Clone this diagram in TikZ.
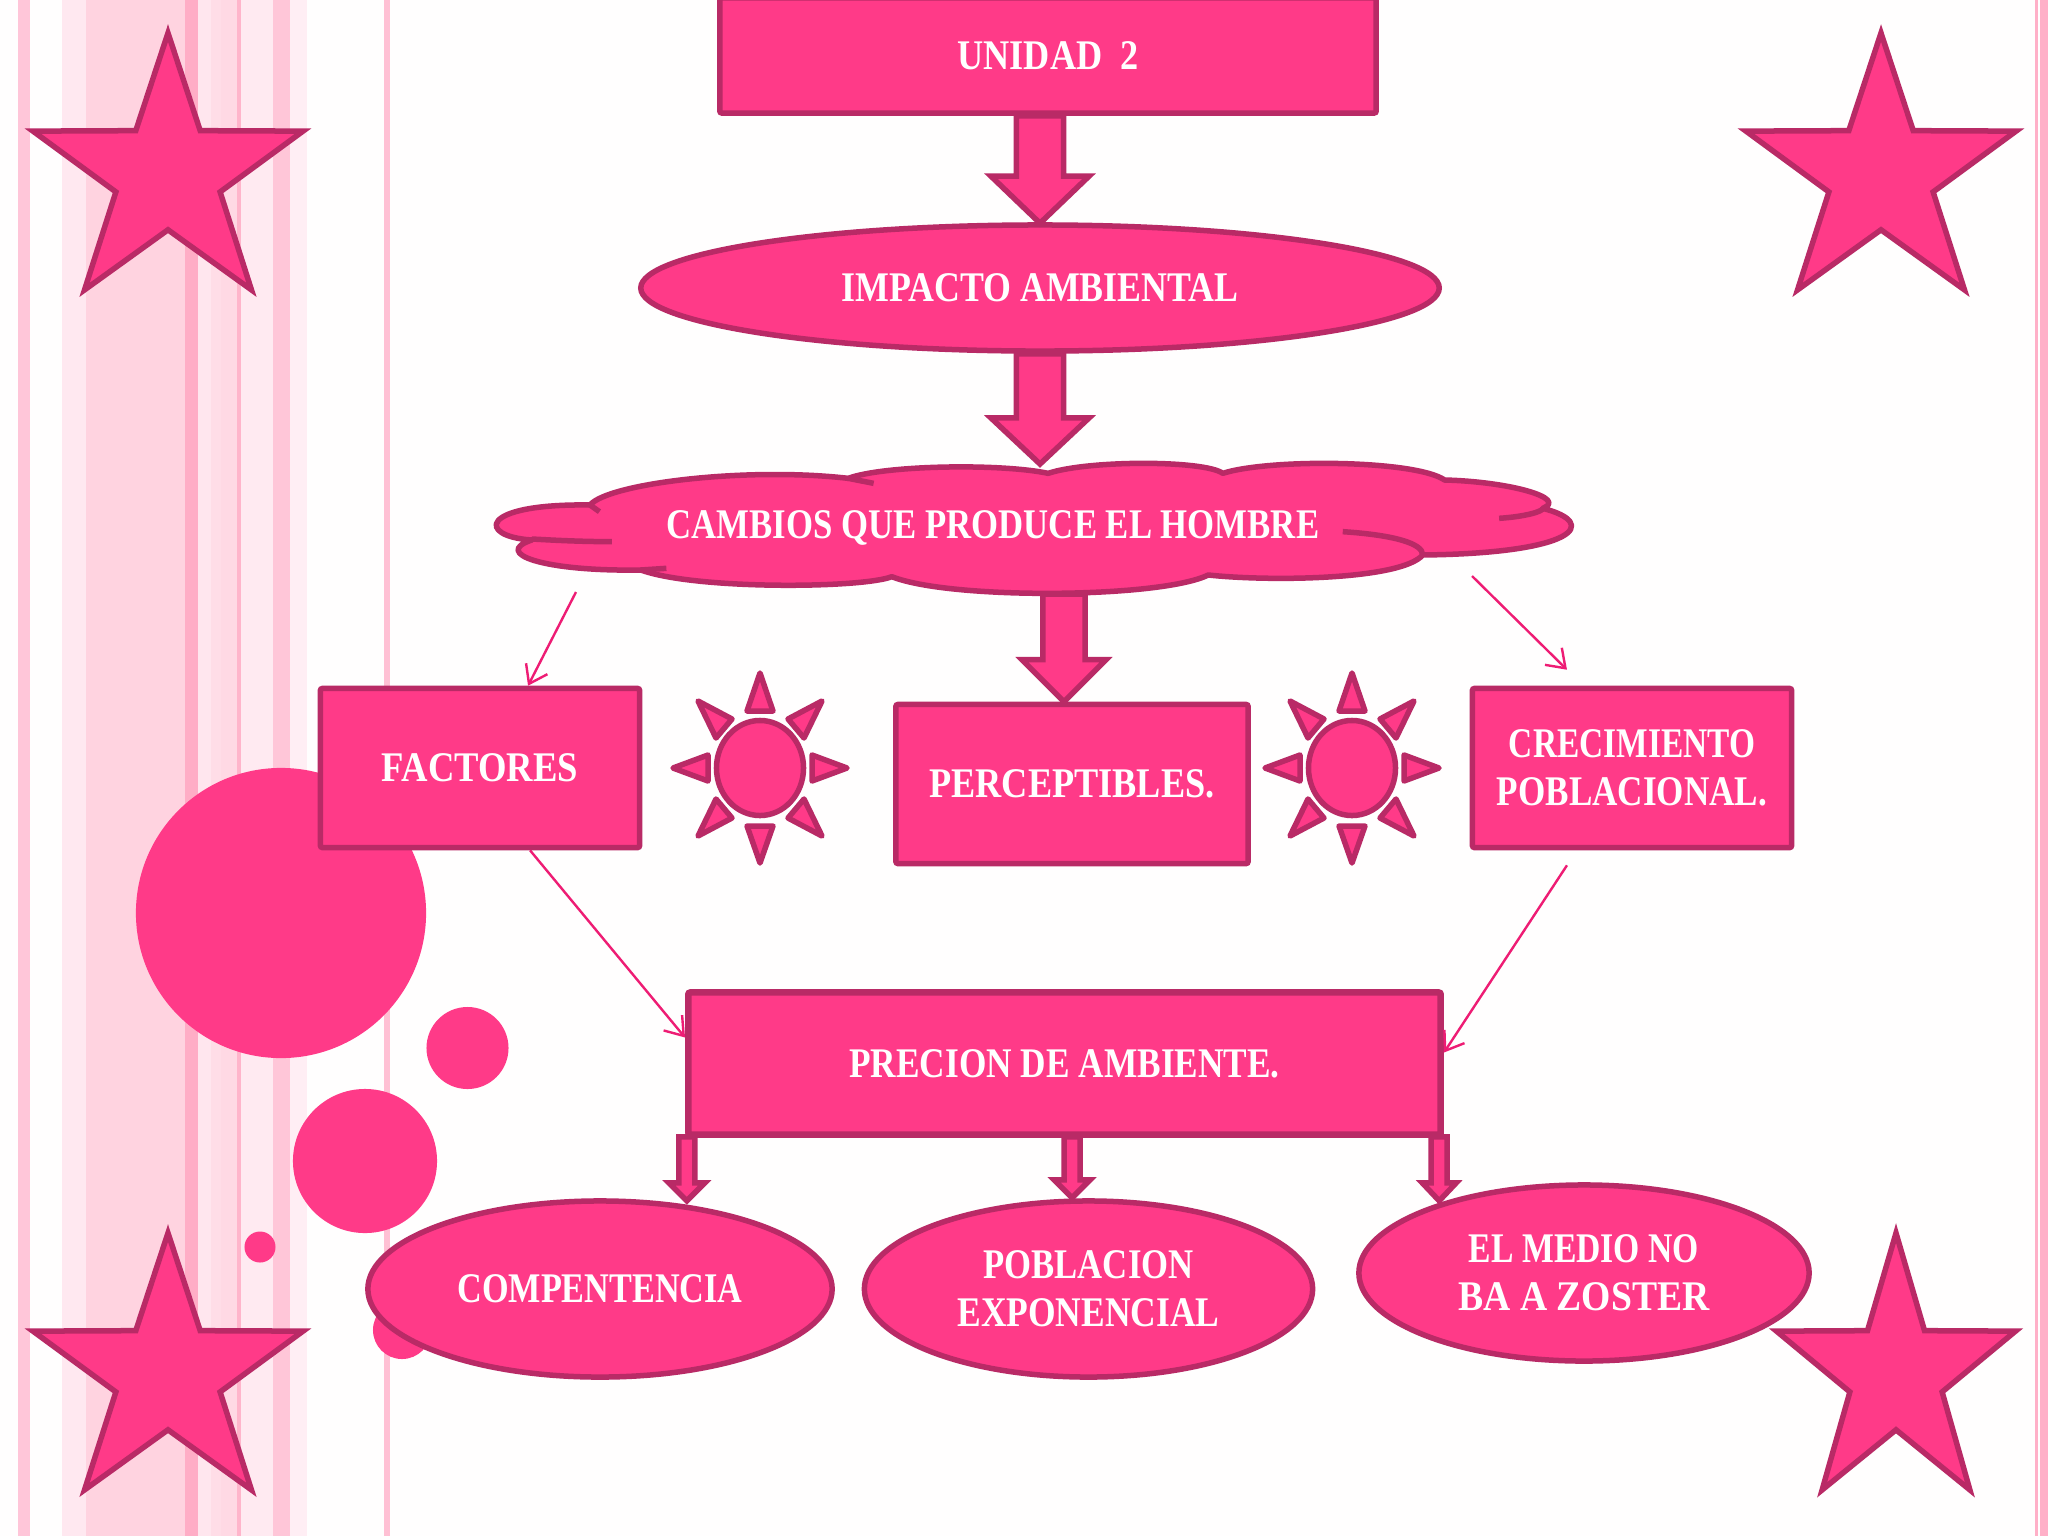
\documentclass[tikz,border=0pt]{standalone}
\usepackage{fontspec}
\usepackage{graphicx}
\setmainfont{Liberation Serif}
\usetikzlibrary{shapes.geometric,arrows.meta,calc}
\definecolor{hotfill}{HTML}{FF3A88}
\definecolor{hotline}{HTML}{B92A66}
\definecolor{thinline}{HTML}{EE1C74}
\tikzset{
  shapeline/.style={draw=hotline,fill=hotfill,line width=.055cm},
  boxnode/.style={shapeline,rectangle,rounded corners=.02cm,inner sep=0pt,text=white,align=center,
    font=\fontsize{12}{13.66}\selectfont\bfseries},
  ovalnode/.style={shapeline,ellipse,inner sep=0pt,text=white,align=center,
    font=\fontsize{12}{13.66}\selectfont\bfseries},
  thinarrow/.style={draw=thinline,line width=.024cm,-{Straight Barb[length=.17cm,width=.24cm]}},
  blockline/.style={shapeline,line join=miter},
  sunline/.style={shapeline,line join=round},
  dot/.style={circle,fill=hotfill,inner sep=0pt},
}
\newcommand{\lbl}[2]{\resizebox{#1}{\height}{#2}}
% from, to, half shaft, half head, head length
\newcommand{\blockarrow}[5]{%
  \draw[blockline] let \p1=(#1),\p2=(#2) in
    (\x2-#3,\y1) -- (\x2+#3,\y1) -- (\x2+#3,\y2+#5) -- (\x2+#4,\y2+#5) -- (\x2,\y2)
    -- (\x2-#4,\y2+#5) -- (\x2-#3,\y2+#5) -- cycle;}
\newcommand{\starshape}[3]{%
  \begin{scope}[shift={(#1,#2)},xscale=#3]
    \draw[shapeline,line join=miter]
      (-90:142) -- (-54:54.8) -- (-18:142) -- (18:54.8) -- (54:142) -- (90:54.8)
      -- (126:142) -- (162:54.8) -- (198:142) -- (234:54.8) -- cycle;
  \end{scope}}
\newcommand{\sunshape}[3]{%
  \node[ovalnode,minimum width=.87cm,minimum height=.95cm] (#1) at (#2,#3) {};
  \begin{scope}[shift={(#2,#3)}]
    \draw[sunline] (0,-95) -- (13,-57) -- (-13,-57) -- cycle;
    \draw[sunline] (0,95) -- (13,58) -- (-13,58) -- cycle;
    \draw[sunline] (87,0) -- (52,13) -- (52,-13) -- cycle;
    \draw[sunline] (-87,0) -- (-52,13) -- (-52,-13) -- cycle;
    \draw[sunline] (62,-67) -- (28,-49) -- (44,-30) -- cycle;
    \draw[sunline] (-62,-67) -- (-28,-49) -- (-44,-30) -- cycle;
    \draw[sunline] (62,68) -- (28,50) -- (44,31) -- cycle;
    \draw[sunline] (-62,68) -- (-28,50) -- (-44,31) -- cycle;
  \end{scope}}
\begin{document}
\begin{tikzpicture}[x=.01cm,y=-.01cm]
\useasboundingbox (0,0) rectangle (2048,1536);
\fill[white!99.5!hotfill] (0,0) rectangle (2048,1536);
% stripes
\foreach \a/\b/\c in {18/30/FFC6D9,62/86/FFE8F0,86/185/FFD3E0,185/198/FFADC6,198/211/FFE6EE,211/221/FFDDE7,221/237/FFD9E4,237/241/FFB5CB,241/273/FFEAF1,273/290/FFC6D8,290/307/FFEEF4,384/390/FFC0D4,2035/2038/FFB0C8,2040/2048/FFB0C8}{
  \definecolor{stripecol}{HTML}{\c}
  \fill[stripecol] (\a,0) rectangle (\b,1536);
}
% dots
\node[dot,minimum width=2.9cm] (d1) at (281,913) {};
\node[dot,minimum width=.82cm] (d2) at (467.5,1048) {};
\node[dot,minimum width=1.44cm] (d3) at (365,1161) {};
\node[dot,minimum width=.31cm] (d4) at (260,1247) {};
\node[dot,minimum width=.58cm] (d5) at (402,1330) {};
% stars
\starshape{168}{175}{1}
\starshape{1881}{175}{1}
\starshape{168}{1375}{1}
\starshape{1896}{1375}{.885}
% cloud
\begin{scope}[shift={(470,440)},xscale=.7273,yscale=.3333]
  \draw[shapeline,line join=round]
    (165,195) .. controls (190,130) and (380,80) .. (520,115)
    .. controls (570,75) and (730,70) .. (795,100)
    .. controls (850,60) and (1010,60) .. (1035,100)
    .. controls (1100,55) and (1300,60) .. (1340,120)
    .. controls (1430,125) and (1510,175) .. (1475,205)
    .. controls (1555,250) and (1520,340) .. (1310,345)
    .. controls (1280,420) and (1100,425) .. (1015,405)
    .. controls (950,475) and (660,480) .. (580,410)
    .. controls (540,445) and (310,450) .. (235,390)
    .. controls (100,395) and (30,340) .. (85,300)
    .. controls (10,290) and (10,190) .. (165,195) -- cycle;
  \draw[shapeline,fill=none] (520,115) -- (555,130);
  \draw[shapeline,fill=none] (1200,275) .. controls (1270,285) and (1310,310) .. (1310,345);
  \draw[shapeline,fill=none] (1415,235) .. controls (1450,230) and (1475,215) .. (1475,205);
  \draw[shapeline,fill=none] (270,385) -- (235,390);
  \draw[shapeline,fill=none] (195,305) .. controls (150,305) and (110,300) .. (85,297);
  \draw[shapeline,fill=none] (165,195) -- (178,215);
\end{scope}
\coordinate (cloudtop) at (1040,464);
\coordinate (cloudbottom) at (1064,594);
\coordinate (cloudleft) at (576,592);
\coordinate (cloudright) at (1472,576);
\node[text=white,inner sep=0pt,font=\fontsize{12}{13.66}\selectfont\bfseries] (cambios) at (993,528)
  {\lbl{6.52cm}{CAMBIOS QUE PRODUCE EL HOMBRE}};
% nodes
\node[boxnode,minimum width=6.56cm,minimum height=1.15cm] (unidad) at (1048,55.5) {\lbl{1.81cm}{UNIDAD\ \ 2}};
\node[ovalnode,minimum width=7.98cm,minimum height=1.26cm] (impacto) at (1040,288) {\lbl{3.97cm}{IMPACTO AMBIENTAL}};
\node[boxnode,minimum width=3.19cm,minimum height=1.59cm] (factores) at (480,768) {\lbl{1.96cm}{FACTORES}};
\node[boxnode,minimum width=3.52cm,minimum height=1.59cm] (perceptibles) at (1072,784) {\lbl{2.85cm}{PERCEPTIBLES.}};
\node[boxnode,minimum width=3.19cm,minimum height=1.59cm] (crecimiento) at (1632,768) {\lbl{2.46cm}{CRECIMIENTO}\\\lbl{2.70cm}{POBLACIONAL.}};
\node[boxnode,minimum width=7.52cm,minimum height=1.42cm,line width=.065cm] (precion) at (1064.5,1063.5) {\lbl{4.30cm}{PRECION DE AMBIENTE.}};
\node[ovalnode,minimum width=4.64cm,minimum height=1.76cm] (compentencia) at (600,1289) {\lbl{2.85cm}{COMPENTENCIA}};
\node[ovalnode,minimum width=4.48cm,minimum height=1.76cm] (poblacion) at (1088.5,1289) {\lbl{2.10cm}{POBLACION}\\\lbl{2.62cm}{EXPONENCIAL}};
\node[ovalnode,minimum width=4.50cm,minimum height=1.76cm] (medio) at (1584,1273) {\lbl{2.30cm}{EL MEDIO NO}\\\lbl{2.51cm}{BA A ZOSTER}};
% suns
\sunshape{sunA}{760}{768}
\sunshape{sunB}{1352}{768}
% block arrows
\blockarrow{unidad.south}{$(impacto.north)+(0,-.01cm)$}{.235cm}{.49cm}{.47cm}
\blockarrow{impacto.south}{cloudtop}{.235cm}{.49cm}{.46cm}
\blockarrow{cloudbottom}{$(perceptibles.north)+(-.08cm,.0cm)$}{.21cm}{.42cm}{.42cm}
\blockarrow{$(precion.south)+(-3.775cm,.01cm)$}{$(precion.south)+(-3.775cm,-.63cm)$}{.08cm}{.18cm}{.18cm}
\blockarrow{$(precion.south)+(.075cm,.01cm)$}{$(precion.south)+(.075cm,-.60cm)$}{.08cm}{.18cm}{.18cm}
\blockarrow{$(precion.south)+(3.745cm,.01cm)$}{$(precion.south)+(3.745cm,-.63cm)$}{.08cm}{.17cm}{.18cm}
% thin arrows
\draw[thinarrow] (cloudleft) -- ([xshift=.48cm]factores.north);
\draw[thinarrow] (cloudright) -- ([shift={(-.65cm,.16cm)}]crecimiento.north);
\draw[thinarrow] ([xshift=.5cm]factores.south) -- ([yshift=.26cm]precion.west);
\draw[thinarrow] ([shift={(-.65cm,-.15cm)}]crecimiento.south) -- ([yshift=.11cm]precion.east);
\end{tikzpicture}
\end{document}
